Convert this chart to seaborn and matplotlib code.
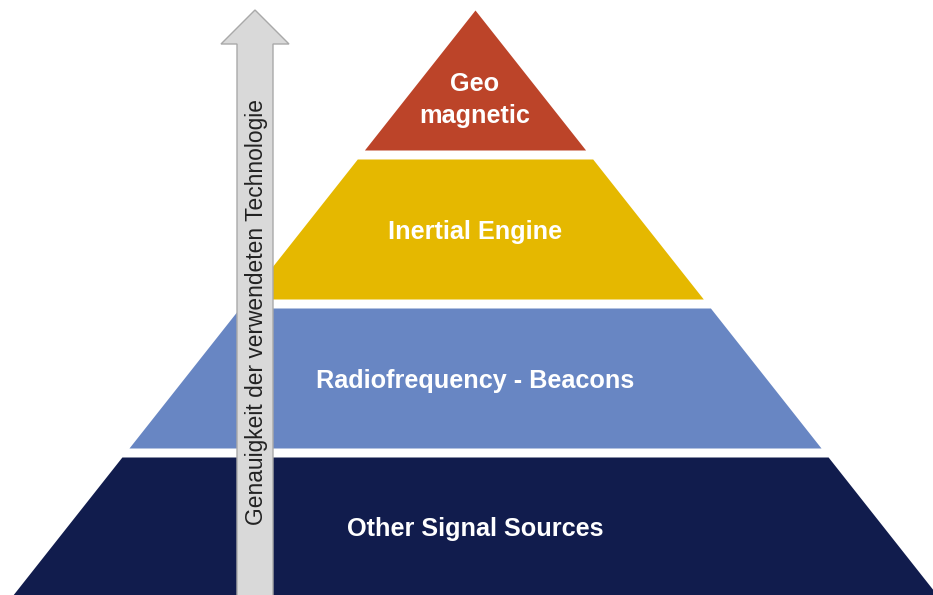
import matplotlib.pyplot as plt
import numpy as np
import seaborn as sns
from matplotlib.patches import Polygon

# pyramid levels, top to bottom
levels = ["Geo\nmagnetic", "Inertial Engine", "Radiofrequency - Beacons", "Other Signal Sources"]
level_colors = ["#bc4429", "#e5b800", "#6886c3", "#111c4d"]
arrow_label = "Genauigkeit der verwendeten Technologie"

sns.set_theme(style="white")
plt.rcParams["font.family"] = ["Liberation Sans", "DejaVu Sans"]

W, H = 933, 595
fig = plt.figure(figsize=(W / 100, H / 100), dpi=100)
ax = fig.add_axes([0, 0, 1, 1])
ax.set_xlim(0, W)
ax.set_ylim(H, 0)
ax.axis("off")

# geometry of the pyramid (pixel-like axis units)
apex_x, apex_y = 475, 10
slope = 0.79  # half-width grows by this much per unit of height
pitch = 149
gap = 9

for i, (label, color) in enumerate(zip(levels, level_colors)):
    top = apex_y + i * pitch
    bottom = apex_y + (i + 1) * pitch - gap
    if i == len(levels) - 1:
        bottom = H + 5
    y = np.array([top, bottom])
    half = slope * (y - apex_y)
    ax.fill_betweenx(y, apex_x - half, apex_x + half, color=color, lw=0, zorder=1)
    ty = top + 0.62 * (bottom - top) if i == 0 else (top + min(bottom, H)) / 2
    ax.text(apex_x, ty + 3, label, color="white", fontsize=18.2, fontweight="bold",
            ha="center", va="center", linespacing=1.4, zorder=3)

# upward arrow on the left
ax_x = 255
tip, head_base = 10, 44
head_w, shaft_w = 34, 18
arrow_pts = [
    (ax_x, tip), (ax_x + head_w, head_base), (ax_x + shaft_w, head_base),
    (ax_x + shaft_w, H + 5), (ax_x - shaft_w, H + 5), (ax_x - shaft_w, head_base),
    (ax_x - head_w, head_base),
]
ax.add_patch(Polygon(arrow_pts, closed=True, facecolor="#d9d9d9", edgecolor="#a9a9a9", lw=1, zorder=2))
ax.text(ax_x + 1, 312, arrow_label, rotation=90, ha="center", va="center",
        fontsize=16.4, color="#222222", zorder=3)

fig.savefig("out.png", dpi=100, facecolor="white")
